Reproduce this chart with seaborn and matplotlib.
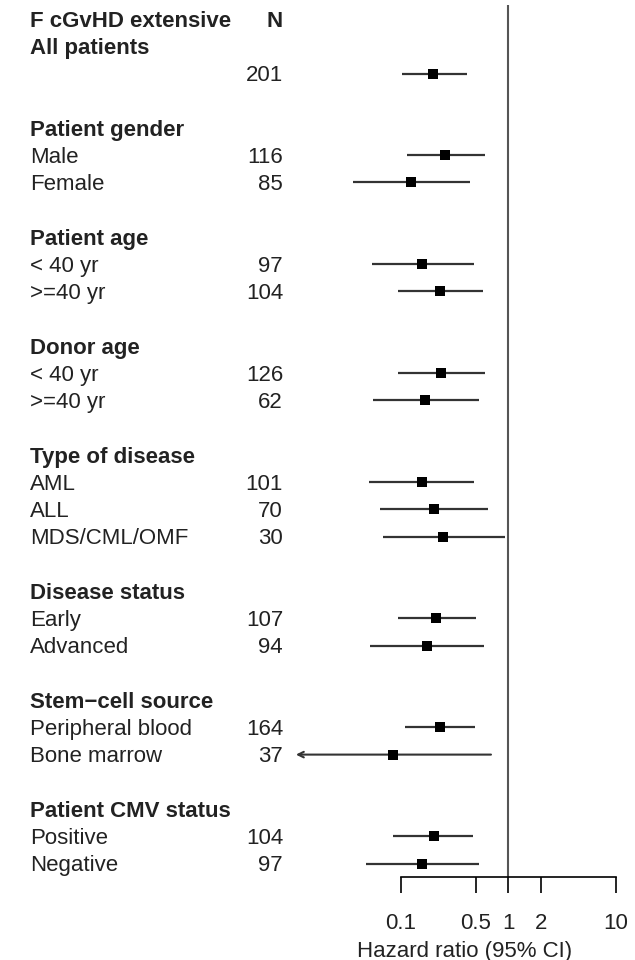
import numpy as np
import pandas as pd
import seaborn as sns
import matplotlib.pyplot as plt
import matplotlib.transforms as mtransforms

sns.set_style("white")
plt.rcParams['font.family'] = ['Liberation Sans', 'DejaVu Sans']

# forest plot data
title = "F cGvHD extensive"
group_names = ["All patients", "Patient gender", "Patient age", "Donor age",
               "Type of disease", "Disease status", "Stem\u2212cell source",
               "Patient CMV status"]
sub_labels = [[""], ["Male", "Female"], ["< 40 yr", ">=40 yr"], ["< 40 yr", ">=40 yr"],
              ["AML", "ALL", "MDS/CML/OMF"], ["Early", "Advanced"],
              ["Peripheral blood", "Bone marrow"], ["Positive", "Negative"]]
n_values = [[201], [116, 85], [97, 104], [126, 62], [101, 70, 30], [107, 94],
            [164, 37], [104, 97]]
hr = [[0.20], [0.26, 0.124], [0.157, 0.23], [0.236, 0.168], [0.159, 0.204, 0.248],
      [0.212, 0.175], [0.23, 0.084], [0.204, 0.157]]
ci_low = [[0.102], [0.113, 0.036], [0.054, 0.094], [0.094, 0.055], [0.051, 0.064, 0.069],
          [0.094, 0.052], [0.109, 0.005], [0.085, 0.047]]
ci_high = [[0.41], [0.61, 0.44], [0.48, 0.58], [0.61, 0.53], [0.48, 0.65, 0.93],
           [0.50, 0.59], [0.49, 0.69], [0.47, 0.53]]
xticks = [0.1, 0.5, 1, 2, 10]
xticklabels = ["0.1", "0.5", "1", "2", "10"]

# build rows: header row 0, then group title, subgroup rows, blank row
rows = []
headers = []
r = 1
for g, labs, ns, h, lo, hi in zip(group_names, sub_labels, n_values, hr, ci_low, ci_high):
    headers.append((r, g))
    r += 1
    for lab, n, a, b, c in zip(labs, ns, h, lo, hi):
        rows.append(dict(row=r, label=lab, n=n, hr=a, lo=b, hi=c))
        r += 1
    r += 1
df = pd.DataFrame(rows)

clip_lo = 10 ** ((295 - 508.3) / 107.5)
xmax = 10 ** ((635 - 508.3) / 107.5)

fig = plt.figure(figsize=(6.35, 9.6), dpi=100)
top = 1 - 5.4 / 960
bottom = 1 - 877.2 / 960
ax = fig.add_axes([295 / 635, bottom, 340 / 635, top - bottom])
ax.set_xscale("log")
ax.set_xlim(clip_lo, xmax)
ax.set_ylim(31.5, -0.5)

ax.axvline(1, color="#555555", lw=1.5, zorder=1)

ok = df[df["lo"] >= clip_lo]
ax.hlines(ok["row"], ok["lo"], ok["hi"], color="#333333", lw=1.6, zorder=2)
cut = df[df["lo"] < clip_lo]
for _, rw in cut.iterrows():
    ax.annotate("", xy=(clip_lo * 1.02, rw["row"]), xytext=(rw["hi"], rw["row"]),
                arrowprops=dict(arrowstyle="->", color="#333333", lw=1.5,
                                shrinkA=0, shrinkB=0), zorder=2)

sns.scatterplot(data=df, x="hr", y="row", marker="s", color="black", s=58,
                edgecolor="black", linewidth=0, ax=ax, zorder=3)

for s in ["left", "right", "top"]:
    ax.spines[s].set_visible(False)
ax.spines["bottom"].set_bounds(0.1, 10)
ax.spines["bottom"].set_color("black")
ax.spines["bottom"].set_linewidth(1.2)
ax.set_yticks([])
ax.set_xticks(xticks)
ax.set_xticklabels(xticklabels)
ax.minorticks_off()
ax.tick_params(axis="x", bottom=True, length=11.5, width=1.2, labelsize=16, pad=14,
               color="black", labelcolor="#222222")
ax.set_xlabel("Hazard ratio (95% CI)", fontsize=16, labelpad=5, color="#222222")
ax.set_ylabel("")

# text columns (nudged down a little so caps sit on the CI line)
trans = mtransforms.blended_transform_factory(fig.transFigure, ax.transData)
fs = 16
tc = "#222222"
dy = 0.08
ax.text(30 / 635, 0 + dy, title, transform=trans, fontsize=fs, fontweight="bold",
        ha="left", va="center", color=tc)
ax.text(283 / 635, 0 + dy, "N", transform=trans, fontsize=fs, fontweight="bold",
        ha="right", va="center", color=tc)
for rr, g in headers:
    ax.text(30 / 635, rr + dy, g, transform=trans, fontsize=fs, fontweight="bold",
            ha="left", va="center", color=tc)
for _, rw in df.iterrows():
    ax.text(30 / 635, rw["row"] + dy, rw["label"], transform=trans, fontsize=fs,
            ha="left", va="center", color=tc)
    ax.text(283 / 635, rw["row"] + dy, str(rw["n"]), transform=trans, fontsize=fs,
            ha="right", va="center", color=tc)

fig.savefig("out.png", dpi=100)
